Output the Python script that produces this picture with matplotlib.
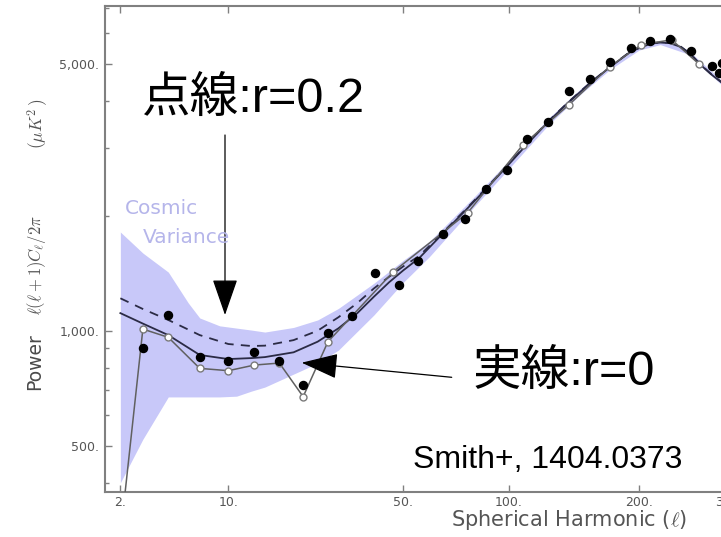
import numpy as np
import matplotlib
matplotlib.use("Agg")
import matplotlib.pyplot as plt
from matplotlib.ticker import FixedLocator, FixedFormatter, NullLocator, NullFormatter
from matplotlib.patches import FancyArrowPatch

plt.rcParams["mathtext.fontset"] = "cm"

# Theory spectra (multipole, power in uK^2)
ell_th = [2, 3, 4.5, 7, 10, 13, 15, 20, 25, 30, 35, 40, 45, 50, 56, 66, 77, 87, 99,
          110, 125, 140, 156, 173, 192, 211, 221, 231, 243, 254, 265, 278, 290, 305]
pow_r0 = [1112, 1044, 974, 864, 843, 848, 853, 878, 936, 1015, 1110, 1227, 1340, 1440,
          1550, 1800, 2080, 2350, 2700, 3045, 3520, 3970, 4430, 4890, 5380, 5640, 5680,
          5660, 5530, 5290, 4975, 4690, 4480, 4210]
pow_r02 = [1216, 1140, 1067, 974, 923, 912, 914, 945, 1000, 1085, 1180, 1290, 1385, 1475,
           1570, 1810, 2090, 2360, 2710, 3055, 3530, 3980, 4440, 4900, 5390, 5650, 5690,
           5670, 5540, 5300, 4985, 4700, 4490, 4220]

# Cosmic variance band
ell_cv = [2, 3, 4.5, 6, 7, 9, 11, 13, 15, 20, 25, 30, 40, 50, 60, 80, 100, 125, 150,
          173, 200, 221, 250, 290, 305]
cv_upper = [1813, 1597, 1424, 1182, 1080, 1030, 1016, 1004, 992, 1020, 1067, 1144, 1331,
            1530, 1710, 2220, 2790, 3590, 4330, 4960, 5570, 5750, 5450, 4540, 4270]
cv_lower = [400, 520, 671, 671, 671, 671, 674, 695, 712, 770, 822, 890, 1099, 1340, 1560,
            2090, 2660, 3450, 4190, 4820, 5430, 5610, 5310, 4420, 4150]

# Measured band powers
ell_filled = [3, 4.5, 7, 10, 13.4, 17.4, 21.9, 27.4, 33.7, 40.4, 48.5, 55.7, 65.8, 76.4,
              87, 98.7, 110.7, 125, 140.2, 156.1, 172.9, 191.8, 210.9, 231.4, 254,
              278.6, 288, 291]
pow_filled = [899, 1099, 855, 833, 881, 835, 721, 984, 1095, 1419, 1317, 1522, 1791, 1958,
              2352, 2630, 3179, 3523, 4236, 4559, 5060, 5496, 5723, 5792, 5398,
              4938, 4716, 5030]
ell_open = [2, 3, 4.5, 7, 10, 13.4, 17.4, 21.9, 27.4, 46.4, 77.6, 108.3, 140.2, 172.9,
            202, 233, 264]
pow_open = [290, 1010, 961, 797, 786, 813, 823, 672, 936, 1427, 2039, 3063, 3909, 4911,
            5608, 5775, 4982]

x_ticks = [2, 10, 50, 100, 200, 300, 500]
x_labels = ["2.", "10.", "50.", "100.", "200.", "300.", "500."]
y_ticks = [500, 1000, 5000]
y_labels = ["500.", "1,000.", "5,000."]
y_minor = [400, 600, 700, 800, 900, 2000, 3000, 4000, 6000, 7000]

W, H = 721, 537
fig = plt.figure(figsize=(W / 100, H / 100), dpi=100)


def fx(x):
    return x / W


def fy(y):
    return 1 - y / H


ax = fig.add_axes([fx(105), fy(491.7), (1035 - 105) / W, (491.7 - 6) / H])

EXP = 0.3
ax.set_xscale("function",
              functions=(lambda l: np.sign(l) * np.abs(l) ** EXP,
                         lambda u: np.sign(u) * np.abs(u) ** (1 / EXP)))
ax.set_yscale("log")

ink = "#2b2b45"
ax.fill_between(ell_cv, cv_lower, cv_upper, color="#c8c8f9", lw=0, zorder=1)
ax.plot(ell_th, pow_r0, color=ink, lw=1.3, zorder=3)
ax.plot(ell_th, pow_r02, color=ink, lw=1.3, ls=(0, (5, 4)), zorder=3)
ax.plot(ell_open, pow_open, color="#606060", lw=1.1, zorder=4)
ax.plot(ell_open, pow_open, "o", ms=5, mfc="white", mec="#7a7a7a", mew=1, zorder=5)
ax.plot(ell_filled, pow_filled, "o", ms=5.8, color="black", mec="black", zorder=6)

ax.set_xlim(1.47, 902)
ax.set_ylim(379, 7080)

ax.xaxis.set_major_locator(FixedLocator(x_ticks))
ax.xaxis.set_major_formatter(FixedFormatter(x_labels))
ax.xaxis.set_minor_locator(NullLocator())
ax.yaxis.set_major_locator(FixedLocator(y_ticks))
ax.yaxis.set_major_formatter(FixedFormatter(y_labels))
ax.yaxis.set_minor_locator(FixedLocator(y_minor))
ax.yaxis.set_minor_formatter(NullFormatter())

ax.tick_params(which="both", direction="in", top=True, right=False,
               color="#808080", labelcolor="#555555", labelsize=9, width=1)
ax.tick_params(which="major", length=5)
ax.tick_params(which="minor", length=3)
ax.tick_params(axis="y", pad=4)
ax.tick_params(axis="x", pad=3)

for side in ("left", "top", "bottom"):
    ax.spines[side].set_color("#808080")
    ax.spines[side].set_linewidth(1.5)
ax.spines["right"].set_visible(False)

grey = "#555555"
fig.text(fx(569), fy(520.5), r"Spherical Harmonic ($\ell$)", fontsize=15, color=grey,
         ha="center", va="center")
fig.text(fx(35), fy(362), "Power", rotation=90, fontsize=13.5, color="#4a4a4a",
         ha="center", va="center")
fig.text(fx(37), fy(265), r"$\ell(\ell+\mathbf{1})C_\ell/2\pi$", rotation=90, fontsize=12,
         color=grey, ha="center", va="center")
fig.text(fx(38), fy(124), r"$(\mu K^2\,)$", rotation=90, fontsize=12.5, color=grey,
         ha="center", va="center")

lav = "#b5b5ea"
fig.text(fx(125), fy(214), "Cosmic", fontsize=14.5, color=lav, ha="left", va="baseline")
fig.text(fx(143), fy(243), "Variance", fontsize=14.5, color=lav, ha="left", va="baseline")

jp = ["Liberation Sans", "Noto Sans CJK JP", "DejaVu Sans"]
fig.text(fx(141.7), fy(112), "点線:r=0.2", fontsize=35, family=jp, color="black",
         ha="left", va="baseline")
fig.text(fx(472.7), fy(385), "実線:r=0", fontsize=35, family=jp, color="black",
         ha="left", va="baseline")
fig.text(fx(413.3), fy(468.3), "Smith+, 1404.0373", fontsize=23,
         family=["Liberation Sans", "DejaVu Sans"], color="black", ha="left", va="baseline")

head = "-|>,head_length=2.3,head_width=0.8"
for tail, tip in (((225, 135), (225, 315)), ((451.7, 377.3), (301.7, 362.7))):
    fig.add_artist(FancyArrowPatch((fx(tail[0]), fy(tail[1])), (fx(tip[0]), fy(tip[1])),
                                   transform=fig.transFigure, arrowstyle=head,
                                   mutation_scale=10, lw=0.9, color="black",
                                   shrinkA=0, shrinkB=0))

fig.savefig("out.png", dpi=100)
